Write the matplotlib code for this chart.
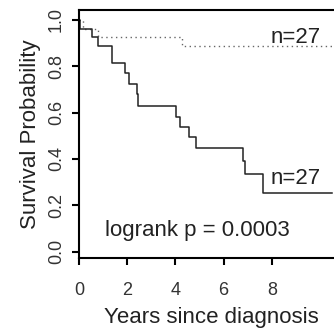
import matplotlib
matplotlib.use("Agg")
import matplotlib.pyplot as plt

# Kaplan-Meier step curves (years, survival)
high_times = [0, 0.05, 0.55, 0.8, 1.38, 1.91, 2.07, 2.41, 2.46, 4.01, 4.18,
              4.56, 4.87, 6.79, 6.89, 7.62, 10.49]
high_surv = [1.0, 0.963, 0.926, 0.889, 0.815, 0.770, 0.722, 0.680, 0.629,
             0.583, 0.540, 0.494, 0.449, 0.393, 0.337, 0.255, 0.255]

low_times = [0, 0.15, 0.8, 4.26, 10.8]
low_surv = [1.0, 0.963, 0.926, 0.889, 0.889]

group_labels = ["n=27", "n=27"]
pvalue_text = "logrank p = 0.0003"
x_ticks = [0, 2, 4, 6, 8]
y_ticks = [0.0, 0.2, 0.4, 0.6, 0.8, 1.0]

plt.rcParams["font.family"] = ["Liberation Sans", "DejaVu Sans"]

fig = plt.figure(figsize=(3.34, 3.36), dpi=100)
ax = fig.add_axes([0.2365, 0.2313, 0.794, 0.739])

ax.step(low_times, low_surv, where="post", color="#666666", lw=1.0,
        linestyle=(0, (1, 2.5)))
ax.step(high_times, high_surv, where="post", color="#222222", lw=1.1)

ax.set_xlim(0, 11)
ax.set_ylim(-0.0285, 1.043)

ax.set_xticks(x_ticks)
ax.set_yticks(y_ticks)
ax.set_xticklabels([str(t) for t in x_ticks], fontsize=13, color="#333333")
ax.set_yticklabels([f"{t:.1f}" for t in y_ticks], fontsize=13,
                   rotation=90, va="center", color="#333333")
ax.tick_params(axis="both", direction="out", length=5, width=1.5)
ax.tick_params(axis="x", pad=12)
ax.tick_params(axis="y", pad=5)

for side in ["left", "bottom", "top"]:
    ax.spines[side].set_linewidth(1.5)
ax.spines["right"].set_visible(False)

ax.set_xlabel("Years since diagnosis", fontsize=16, color="#222222",
              labelpad=6)
ax.set_ylabel("Survival Probability", fontsize=16, color="#222222",
              labelpad=5)

ax.text(8.98, low_surv[-1] + 0.012, group_labels[0], fontsize=16,
        ha="center", va="baseline", color="#222222")
ax.text(8.98, high_surv[-1] + 0.037, group_labels[1], fontsize=16,
        ha="center", va="baseline", color="#222222")
ax.text(4.9, 0.09, pvalue_text, fontsize=16, ha="center", va="center",
        color="#222222")

fig.savefig("out.png", dpi=100)
